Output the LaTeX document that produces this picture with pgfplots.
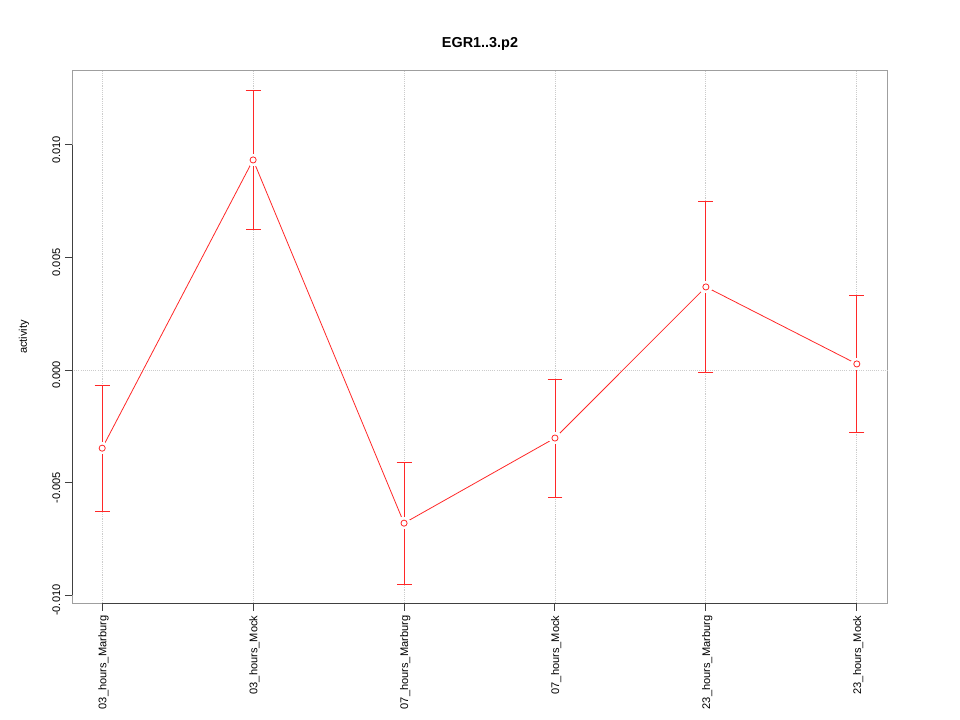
\documentclass[border=0pt]{standalone}
\usepackage{pgfplots}
\pgfplotsset{compat=1.18}
\usepackage{fontspec}
\setmainfont{Liberation Sans}
\definecolor{rred}{RGB}{255,40,40}
\begin{document}
\begin{tikzpicture}
\useasboundingbox (0,0) rectangle (720pt,540pt);
\begin{axis}[
  at={(54pt,87pt)}, anchor=south west,
  scale only axis, width=611.25pt, height=399.75pt,
  xmin=0.8, xmax=6.2, ymin=-0.01039, ymax=0.01328,
  clip=false,
  axis line style={draw=gray!75, line width=0.75pt},
  xtick={1,2,3,4,5,6},
  xticklabels={03\_hours\_Marburg,03\_hours\_Mock,07\_hours\_Marburg,07\_hours\_Mock,23\_hours\_Marburg,23\_hours\_Mock},
  ytick={-0.01,-0.005,0,0.005,0.01},
  yticklabels={-0.010,-0.005,0.000,0.005,0.010},
  xtick pos=lower, ytick pos=left,
  tick align=outside, major tick length=5.25pt,
  tick style={black!75, line width=0.75pt},
  xmajorgrids, grid style={densely dotted, gray!40, line width=0.6pt},
  ticklabel style={font=\fontsize{8.3}{10}\selectfont},
  xticklabel style={rotate=90, anchor=east, yshift=-1pt},
  yticklabel style={rotate=90, anchor=south, xshift=-3.75pt},
  scaled y ticks=false,
]
\pgfplotstableread{
x y e
1 -0.00347 0.0028
2 0.00933 0.0031
3 -0.00680 0.0027
4 -0.00302 0.00262
5 0.00369 0.0038
6 0.00027 0.00305
}\datatab
\addplot[densely dotted, gray!40, line width=0.6pt, forget plot] coordinates {(0.8,0) (6.2,0)};
\draw[black!75, line width=0.75pt] (axis cs:1,-0.01039) -- (axis cs:6,-0.01039);
\draw[black!75, line width=0.75pt] (axis cs:0.8,-0.01) -- (axis cs:0.8,0.01);
% connecting line
\addplot[rred, line width=0.6pt, no marks, forget plot] table[x=x, y=y] {\datatab};
% white discs make the gaps of R's type "b"
\addplot[white, draw=white, fill=white, only marks, mark=*, mark size=4.3pt, mark options={white, draw=white, fill=white, line width=0pt}, forget plot] table[x=x, y=y] {\datatab};
% points with error bars
\addplot[draw=rred, color=rred, only marks, mark=o, mark size=2.3pt, mark options={solid, draw=rred, line width=0.6pt},
  error bars/.cd, y dir=both, y explicit,
  error bar style={draw=rred, color=rred, line width=0.6pt},
  error mark=|,
  error mark options={draw=rred, color=rred, line width=0.6pt, mark size=5.6pt}]
  table[x=x, y=y, y error=e] {\datatab};
\end{axis}
\node[font=\bfseries\fontsize{10.8}{12}\selectfont] at (360pt,507pt) {EGR1..3.p2};
\node[rotate=90, font=\fontsize{8.3}{10}\selectfont] at (18pt,287.25pt) {activity};
\end{tikzpicture}
\end{document}
